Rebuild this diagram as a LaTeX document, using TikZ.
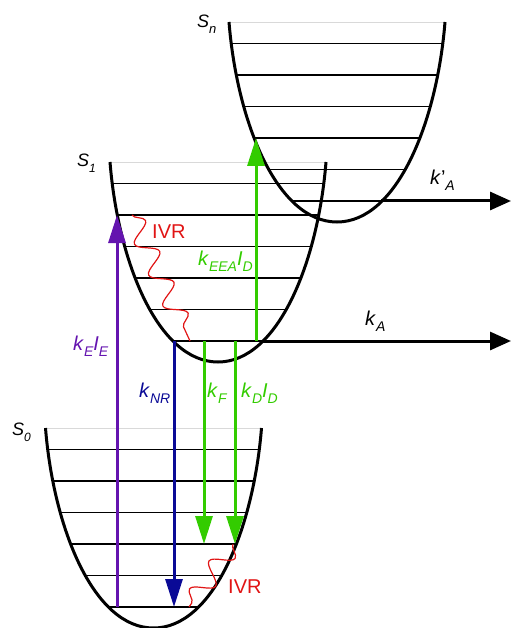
\documentclass[tikz,border=0pt]{standalone}
\usepackage{fontspec}
\setmainfont{Liberation Sans}
\usetikzlibrary{arrows.meta,decorations.pathmorphing}

\definecolor{excviolet}{RGB}{100,20,175}
\definecolor{nrblue}{RGB}{10,10,150}
\definecolor{flgreen}{RGB}{51,204,0}
\definecolor{ivrred}{RGB}{225,20,20}

\newcommand{\lowidx}[2][14]{\raisebox{-6pt}{\fontsize{#1}{#1}\selectfont\itshape #2}}
\newcommand{\wellpath}[2]{(#1-108,#2) .. controls (#1-100,#2+100) and (#1-60,#2+200) .. (#1,#2+200) .. controls (#1+60,#2+200) and (#1+100,#2+100) .. (#1+108,#2)}

\begin{document}
\begin{tikzpicture}[
x=1pt,
y=-1pt,
well/.style={
draw=black,
line width=3pt
},
level/.style={
draw=black,
line width=1.7pt
},
rim/.style={
draw=black!15,
line width=0.8pt
},
label/.style={
anchor=base west,
inner sep=0pt,
font=\fontsize{20}{24}\selectfont
},
statelabel/.style={
anchor=base west,
inner sep=0pt,
font=\fontsize{18}{22}\selectfont
},
uparrow/.style={
-{Triangle[length=28pt,width=17pt]},
line width=3pt
},
outarrow/.style={
-{Triangle[length=21pt,width=18pt]},
line width=3pt,
draw=black
},
ivr/.style={
draw=ivrred,
line width=1.2pt,
decorate,
decoration={snake,amplitude=10pt,segment length=34pt}
}
]

\useasboundingbox (0,0) rectangle (511,628);

\draw[rim] (229,22) -- (445,22);
\draw[rim] (110,162) -- (326,162);
\draw[rim] (45,428) -- (261,428);

\begin{scope}
\clip \wellpath{337}{22};
\foreach \k in {0,...,5}
\draw[level] (0,43.5+31.5*\k) -- (511,43.5+31.5*\k);
\end{scope}

\begin{scope}
\clip \wellpath{218}{162};
\foreach \k in {0,...,5}
\draw[level] (0,183.5+31.5*\k) -- (511,183.5+31.5*\k);
\end{scope}

\begin{scope}
\clip \wellpath{153.5}{428};
\foreach \k in {0,...,5}
\draw[level] (0,449.5+31.5*\k) -- (511,449.5+31.5*\k);
\end{scope}

\draw[well] \wellpath{337}{22};
\draw[well] \wellpath{218}{162};
\draw[well] \wellpath{153.5}{428};

\coordinate (exclow) at (117,607);
\coordinate (exchigh) at (117,215);
\coordinate (nrtop) at (174,341);
\coordinate (nrbot) at (174,607);
\coordinate (fltop) at (204,341);
\coordinate (flbot) at (204,544);
\coordinate (ddtop) at (235,341);
\coordinate (ddbot) at (235,544);
\coordinate (eealow) at (256,341);
\coordinate (eeahigh) at (256,138);
\coordinate (ivrstart) at (132,215);
\coordinate (ivrend) at (190,341);
\coordinate (ivrstarto) at (233,544);
\coordinate (ivrendo) at (189,607);
\coordinate (kastart) at (262,341);
\coordinate (kaend) at (511,341);
\coordinate (kbstart) at (381,201);
\coordinate (kbend) at (511,201);

\node[statelabel] (sn) at (197,28) {\textit{S}\lowidx[13]{n}};
\node[statelabel] (s1) at (77,167) {\textit{S}\lowidx[12]{1}};
\node[statelabel] (s0) at (12,435) {\textit{S}\lowidx[12]{0}};

\node[label,text=excviolet] (kexc) at (73,350) {\textit{k}\lowidx{E}\textit{I}\lowidx{E}};
\node[label,text=nrblue] (knr) at (139,397) {\textit{k}\lowidx{NR}};
\node[label,text=flgreen] (kf) at (207,397) {\textit{k}\lowidx{F}};
\node[label,text=flgreen] (kd) at (241,397) {\textit{k}\lowidx{D}\textit{I}\lowidx{D}};
\node[label,text=flgreen] (keea) at (198,265) {\textit{k}\lowidx{EEA}\textit{I}\lowidx{D}};
\node[label,text=ivrred] (ivrup) at (152,238) {IVR};
\node[label,text=ivrred] (ivrlow) at (228,593) {IVR};
\node[label] (ka) at (365,325) {\textit{k}\lowidx{A}};
\node[label] (kb) at (430,185) {\textit{k}’\lowidx{A}};

\draw[uparrow,draw=excviolet,fill=excviolet] (exclow) -- (exchigh);
\draw[uparrow,draw=nrblue,fill=nrblue] (nrtop) -- (nrbot);
\draw[uparrow,draw=flgreen,fill=flgreen] (fltop) -- (flbot);
\draw[uparrow,draw=flgreen,fill=flgreen] (ddtop) -- (ddbot);
\draw[uparrow,draw=flgreen,fill=flgreen] (eealow) -- (eeahigh);

\draw[ivr] (ivrstart) -- (ivrend);
\draw[ivr] (ivrstarto) -- (ivrendo);

\draw[outarrow] (kastart) -- (kaend);
\draw[outarrow] (kbstart) -- (kbend);

\end{tikzpicture}
\end{document}
